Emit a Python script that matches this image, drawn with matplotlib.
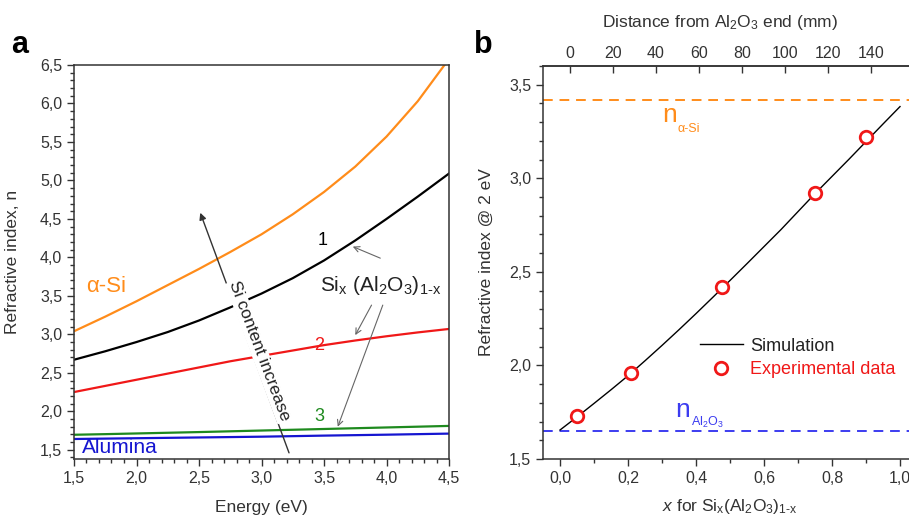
import numpy as np
import matplotlib
matplotlib.use("Agg")
import matplotlib.pyplot as plt
from matplotlib.ticker import MultipleLocator, FixedLocator, FuncFormatter
from matplotlib.lines import Line2D

plt.rcParams["font.family"] = ["Liberation Sans", "DejaVu Sans"]
plt.rcParams["mathtext.fontset"] = "custom"
plt.rcParams["mathtext.rm"] = "Liberation Sans"
plt.rcParams["mathtext.it"] = "Liberation Sans:italic"
plt.rcParams["mathtext.bf"] = "Liberation Sans:bold"

# Panel a: refractive index vs energy
energy = [1.5, 1.75, 2.0, 2.25, 2.5, 2.75, 3.0, 3.25, 3.5, 3.75, 4.0, 4.25, 4.5]
n_asi = [3.04, 3.23, 3.43, 3.64, 3.85, 4.07, 4.30, 4.56, 4.85, 5.18, 5.57, 6.03, 6.58]
n_s1 = [2.67, 2.78, 2.90, 3.03, 3.18, 3.35, 3.53, 3.73, 3.96, 4.22, 4.50, 4.79, 5.09]
n_s2 = [2.25, 2.33, 2.41, 2.49, 2.57, 2.65, 2.72, 2.79, 2.86, 2.92, 2.975, 3.025, 3.07]
n_s3 = [1.695, 1.703, 1.712, 1.721, 1.73, 1.74, 1.75, 1.76, 1.77, 1.78, 1.79, 1.80, 1.81]
n_alumina = [1.64, 1.645, 1.65, 1.655, 1.66, 1.665, 1.67, 1.677, 1.684, 1.69, 1.696, 1.703, 1.71]

# Panel b: refractive index @ 2 eV vs composition
x_sim = [0.0, 0.05, 0.1, 0.15, 0.2, 0.25, 0.3, 0.35, 0.4, 0.45, 0.5,
         0.55, 0.6, 0.65, 0.7, 0.75, 0.8, 0.85, 0.9, 0.95, 1.0]
n_sim = [1.655, 1.725, 1.797, 1.870, 1.945, 2.025, 2.107, 2.191, 2.277, 2.365, 2.454,
         2.544, 2.635, 2.726, 2.822, 2.918, 3.010, 3.102, 3.196, 3.290, 3.383]
x_exp = [0.05, 0.21, 0.475, 0.75, 0.90]
n_exp = [1.73, 1.96, 2.42, 2.92, 3.22]
n_ref_asi = 3.42
n_ref_al2o3 = 1.65
dist_ticks = [0, 20, 40, 60, 80, 100, 120, 140]

GRAY = "#333333"
comma = FuncFormatter(lambda v, p: f"{v:.1f}".replace(".", ","))

fig = plt.figure(figsize=(9.09, 5.2), dpi=100)
ax1 = fig.add_axes([0.0814, 0.1173, 0.4126, 0.7577])
ax2 = fig.add_axes([0.5974, 0.1173, 0.4114, 0.7558])

for ax in (ax1, ax2):
    for s in ax.spines.values():
        s.set_linewidth(1.1)
        s.set_color(GRAY)
    ax.tick_params(which="both", direction="out", colors=GRAY, labelsize=11.5,
                   top=False, right=False, width=1.0)
    ax.tick_params(which="major", length=5)
    ax.tick_params(which="minor", length=3)
    ax.xaxis.set_major_formatter(comma)
    ax.yaxis.set_major_formatter(comma)

# ---- panel a
ax1.plot(energy, n_asi, color="#FF8C1A", lw=1.6)
ax1.plot(energy, n_s1, color="black", lw=1.6)
ax1.plot(energy, n_s2, color="#F01818", lw=1.6)
ax1.plot(energy, n_s3, color="#1E8A1E", lw=1.6)
ax1.plot(energy, n_alumina, color="#1515D0", lw=1.6)
ax1.set_xlim(1.5, 4.5)
ax1.set_ylim(1.38, 6.5)
ax1.xaxis.set_major_locator(MultipleLocator(0.5))
ax1.xaxis.set_minor_locator(MultipleLocator(0.1))
ax1.yaxis.set_major_locator(MultipleLocator(0.5))
ax1.yaxis.set_minor_locator(MultipleLocator(0.1))
ax1.set_xlabel("Energy (eV)", fontsize=12.5, color=GRAY, labelpad=10)
ax1.set_ylabel("Refractive index, n", fontsize=12.5, color=GRAY)
ax1.yaxis.set_label_coords(-0.145, 0.5)

ax1.text(1.6, 3.62, "α-Si", color="#FF8C1A", fontsize=16, va="center")
ax1.text(1.56, 1.53, "Alumina", color="#1515D0", fontsize=15, va="center")
ax1.text(3.49, 4.22, "1", color="black", fontsize=13, ha="center", va="center")
ax1.text(3.46, 2.86, "2", color="#F01818", fontsize=13, ha="center", va="center")
ax1.text(3.46, 1.93, "3", color="#1E8A1E", fontsize=13, ha="center", va="center")
ax1.text(3.47, 3.64, r"Si$_\mathrm{x}$ (Al$_\mathrm{2}$O$_\mathrm{3}$)$_\mathrm{1‐x}$",
         fontsize=15, color="#222222", va="center")

arr = dict(arrowstyle="->", color="#666666", lw=0.8, shrinkA=0, shrinkB=0)
ax1.annotate("", xy=(3.73, 4.14), xytext=(3.95, 3.99), arrowprops=arr)
ax1.annotate("", xy=(3.75, 2.99), xytext=(3.88, 3.38), arrowprops=arr)
ax1.annotate("", xy=(3.61, 1.80), xytext=(3.97, 3.38), arrowprops=arr)

ax1.annotate("", xy=(2.51, 4.58), xytext=(3.22, 1.46),
             arrowprops=dict(arrowstyle="-|>", color=GRAY, lw=1.0,
                             mutation_scale=10, shrinkA=0, shrinkB=0))
ax1.text(2.98, 2.78, "Si content increase", rotation=-69.4, rotation_mode="anchor",
         ha="center", va="center", fontsize=12.5, color="#222222",
         bbox=dict(fc="white", ec="none", pad=0.6), zorder=4)

# ---- panel b
ax2.axhline(n_ref_asi, color="#FF8C1A", lw=1.4, ls=(0, (5, 3.5)))
ax2.axhline(n_ref_al2o3, color="#3C3CF0", lw=1.4, ls=(0, (5, 3.5)))
ax2.plot(x_sim, n_sim, color="black", lw=1.0)
ax2.plot(x_exp, n_exp, ls="none", marker="o", ms=9, mfc="white", mec="#F01818", mew=2)
ax2.set_xlim(-0.05, 1.05)
ax2.set_ylim(1.5, 3.6)
ax2.xaxis.set_major_locator(MultipleLocator(0.2))
ax2.xaxis.set_minor_locator(MultipleLocator(0.1))
ax2.yaxis.set_major_locator(MultipleLocator(0.5))
ax2.yaxis.set_minor_locator(MultipleLocator(0.1))
ax2.set_xlabel(r"$\mathit{x}$ for Si$_\mathrm{x}$(Al$_\mathrm{2}$O$_\mathrm{3}$)$_\mathrm{1‐x}$",
               fontsize=12.5, color=GRAY, labelpad=8)
ax2.set_ylabel("Refractive index @ 2 eV", fontsize=12.5, color=GRAY)
ax2.yaxis.set_label_coords(-0.131, 0.5)

top = ax2.secondary_xaxis("top", functions=(lambda x: (340 * x - 10) / 2.15,
                                              lambda d: (2.15 * d + 10) / 340))
top.xaxis.set_major_locator(FixedLocator(dist_ticks))
top.tick_params(direction="in", length=5, width=1.0, colors=GRAY, labelsize=11.5)
top.spines["top"].set_linewidth(1.1)
top.spines["top"].set_color(GRAY)
fig.text(720 / 909, 1 - 23 / 520, r"Distance from Al$_\mathrm{2}$O$_\mathrm{3}$ end (mm)",
         fontsize=12.5, color=GRAY, ha="center", va="center")

ax2.text(0.30, 3.30, "n", color="#FF8C1A", fontsize=19, va="baseline")
ax2.text(0.345, 3.245, "α-Si", color="#FF8C1A", fontsize=9, va="baseline")
ax2.text(0.34, 1.725, "n", color="#3C3CF0", fontsize=19, va="baseline")
ax2.text(0.385, 1.675, r"Al$_\mathrm{2}$O$_\mathrm{3}$", color="#3C3CF0", fontsize=9,
         va="baseline")

handles = [Line2D([], [], color="black", lw=1.0),
           Line2D([], [], ls="none", marker="o", ms=9, mfc="white", mec="#F01818", mew=2)]
leg = ax2.legend(handles, ["Simulation", "Experimental data"], loc="upper left",
                 bbox_to_anchor=(0.375, 0.35), frameon=False, fontsize=13,
                 handlelength=2.4, handletextpad=0.4, labelspacing=0.35)
leg.get_texts()[0].set_color("#222222")
leg.get_texts()[1].set_color("#F01818")

fig.text(0.012, 0.898, "a", fontsize=22, fontweight="bold")
fig.text(0.521, 0.898, "b", fontsize=22, fontweight="bold")

fig.savefig("out.png", dpi=100)
